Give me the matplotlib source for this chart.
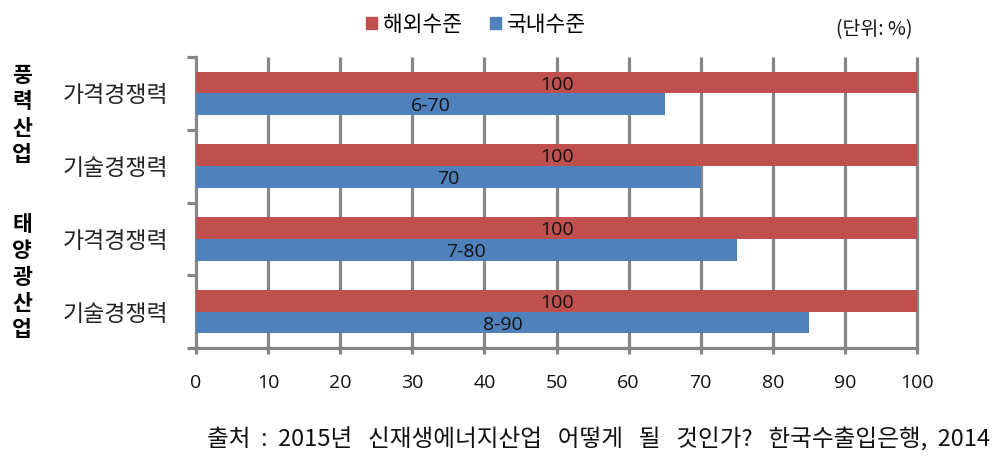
import matplotlib
matplotlib.use("Agg")
import matplotlib.pyplot as plt
import numpy as np
from matplotlib.patches import Patch

plt.rcParams['font.family'] = ['Noto Sans CJK KR', 'DejaVu Sans']

categories = ["가격경쟁력", "기술경쟁력", "가격경쟁력", "기술경쟁력"]
groups = ["풍력산업", "태양광산업"]
series_names = ["해외수준", "국내수준"]
overseas = [100, 100, 100, 100]
domestic = [65, 70, 75, 85]
overseas_labels = ["100", "100", "100", "100"]
domestic_labels = ["6-70", "70", "7-80", "8-90"]
xticks = [0, 10, 20, 30, 40, 50, 60, 70, 80, 90, 100]
source = "출처  :  2015년   신재생에너지산업   어떻게   될   것인가?   한국수출입은행,  2014"

RED = "#C0504D"
BLUE = "#4F81BD"
GRID = "#868686"

W, H = 1002, 468
fig = plt.figure(figsize=(W / 100, H / 100), dpi=100)
ax = fig.add_axes([196 / W, 1 - 348 / H, (917 - 196) / W, (348 - 57) / H])

y = np.arange(len(categories))
bh = 0.30
ax.barh(y - bh / 2, overseas, height=bh, color=RED, zorder=3)
ax.barh(y + bh / 2, domestic, height=bh, color=BLUE, zorder=3)

lab_font = dict(family=['Open Sans', 'DejaVu Sans'], fontsize=14, color='#111111')
for i in range(len(categories)):
    ax.text(overseas[i] / 2, y[i] - bh / 2 + 0.03, overseas_labels[i], ha='center', va='center', zorder=4, **lab_font)
    ax.text(domestic[i] / 2, y[i] + bh / 2 + 0.03, domestic_labels[i], ha='center', va='center', zorder=4, **lab_font)

ax.set_xlim(0, 100)
ax.set_ylim(len(categories) - 0.5, -0.5)

# grid lines
for xv in xticks[1:]:
    ax.plot([xv, xv], [-0.5, 3.5], color=GRID, lw=2.3, zorder=1, clip_on=False, solid_capstyle='butt')
ax.xaxis.grid(False)

for s in ['top', 'right']:
    ax.spines[s].set_visible(False)
ax.spines['left'].set_color(GRID)
ax.spines['left'].set_linewidth(2.3)
ax.spines['bottom'].set_color(GRID)
ax.spines['bottom'].set_linewidth(2.3)

ax.set_xticks(xticks)
ax.set_xticklabels([str(v) for v in xticks], family=['Open Sans', 'DejaVu Sans'], fontsize=14, color='#111111')
ax.tick_params(axis='x', direction='out', length=4, width=2.3, color=GRID, pad=15)

ax.set_yticks(y)
ax.set_yticklabels(categories, fontsize=16.5, color='#222222')
ax.set_yticks(np.arange(len(categories) + 1) - 0.5, minor=True)
ax.tick_params(axis='y', which='major', length=0, pad=20)
ax.tick_params(axis='y', which='minor', direction='out', length=6.5, width=2.3, color=GRID)

# group labels (vertical stacked)
fig.text(22 / W, 1 - 115 / H, "\n".join(groups[0]), ha='center', va='center',
         fontsize=15.5, fontweight='bold', linespacing=1.3)
fig.text(22 / W, 1 - 277 / H, "\n".join(groups[1]), ha='center', va='center',
         fontsize=15.5, fontweight='bold', linespacing=1.3)

# legend
handles = [Patch(color=RED), Patch(color=BLUE)]
fig.legend(handles, series_names, loc='center', bbox_to_anchor=(476 / W, 1 - 25 / H),
           ncol=2, frameon=False, fontsize=15.5, handlelength=0.5, handleheight=0.5,
           handletextpad=0.3, columnspacing=1.3)

fig.text(912 / W, 1 - 30 / H, "(단위: %)", ha='right', va='center', fontsize=14, color='#111111')

fig.text(990 / W, 1 - 440 / H, source, ha='right', va='center', fontsize=17, color='#111111')

fig.savefig("out.png", dpi=100)
